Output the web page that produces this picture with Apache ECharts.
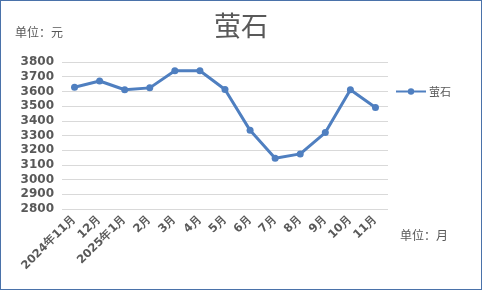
<!DOCTYPE html>
<html><head><meta charset="utf-8">
<script src="https://cdn.jsdelivr.net/npm/echarts@6/dist/echarts.min.js"></script>
<style>html,body{margin:0;padding:0;background:#fff}#c{width:482px;height:290px;box-sizing:border-box;border:1px solid #4a72aa}</style>
</head><body><div id="c"></div>
<script>
const categories = ['2024年11月','12月','2025年1月','2月','3月','4月','5月','6月','7月','8月','9月','10月','11月'];
const seriesName = '萤石';
const values = [3628, 3671, 3611, 3624, 3740, 3740, 3613, 3335, 3145, 3175, 3320, 3611, 3491];
const yTicks = {min: 2800, max: 3800, interval: 100};

const chart = echarts.init(document.getElementById('c'), null, {renderer: 'canvas'});
chart.setOption({
  animation: false,
  title: {text: seriesName, left: 'center', top: 6, textStyle: {fontSize: 27, fontWeight: 'normal', color: '#595959', fontFamily: 'Noto Sans CJK SC'}},
  graphic: [
    {type: 'text', left: 14, top: 25, style: {text: '单位：元', fontSize: 12, fill: '#595959', fontFamily: 'Noto Sans CJK SC'}},
    {type: 'text', left: 399, top: 228, style: {text: '单位：月', fontSize: 12, fill: '#595959', fontFamily: 'Noto Sans CJK SC'}}
  ],
  legend: {data: [seriesName], left: 389, top: 80, itemWidth: 30, itemHeight: 8, itemGap: 4, textStyle: {fontSize: 11, color: '#595959', fontFamily: 'Noto Sans CJK SC', padding: [0, 0, 0, -2]}},
  grid: {left: 61, right: 93, top: 61, bottom: 80, containLabel: false},
  xAxis: {type: 'category', data: categories, boundaryGap: true,
    axisLine: {show: false}, axisTick: {show: false},
    axisLabel: {rotate: 45, interval: 0, fontSize: 11.5, fontWeight: 'bold', color: '#595959', fontFamily: 'DejaVu Sans', margin: 8}},
  yAxis: {type: 'value', min: yTicks.min, max: yTicks.max, interval: yTicks.interval,
    axisLine: {show: false}, axisTick: {show: false},
    splitLine: {lineStyle: {color: '#d9d9d9', width: 1}},
    axisLabel: {fontSize: 12, fontWeight: 'bold', color: '#595959', fontFamily: 'DejaVu Sans', margin: 8, formatter: v => String(v)}},
  series: [{name: seriesName, type: 'line', data: values, symbol: 'circle', symbolSize: 7,
    lineStyle: {width: 3, color: '#4f7fc0'}, itemStyle: {color: '#4f7fc0'}}]
});
</script></body></html>
